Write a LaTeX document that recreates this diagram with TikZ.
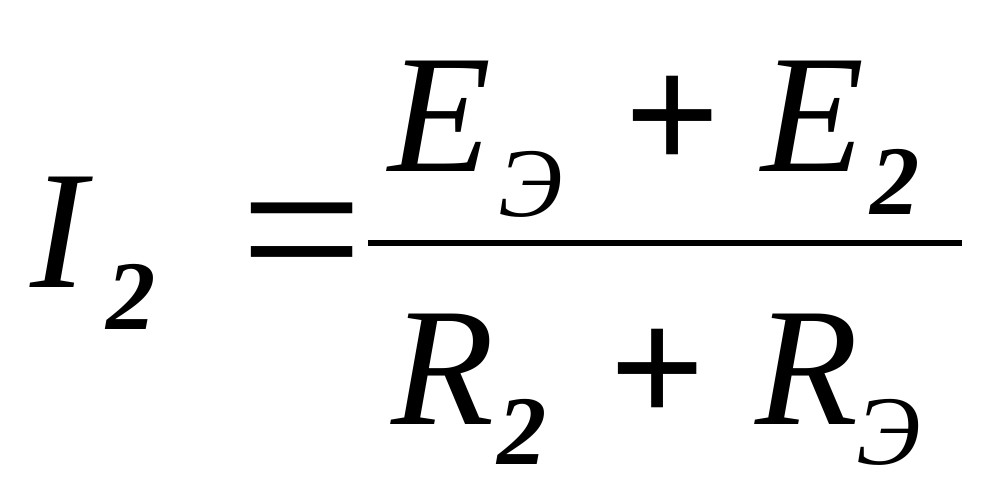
\documentclass[tikz,border=0pt]{standalone}
\usepackage{fontspec}
\setmainfont{Liberation Serif}
\usepackage{tikz}
\tikzstyle{bigsym} = [inner sep=0pt, anchor=base west, font=\fontsize{48}{50}\selectfont\itshape]
\tikzstyle{smallsym} = [inner sep=0pt, anchor=base west, font=\fontsize{28}{30}\selectfont\itshape]
\tikzstyle{smallbold} = [inner sep=0pt, anchor=base west, font=\fontsize{28}{30}\selectfont\bfseries\itshape]
\tikzstyle{opsym} = [inner sep=0pt, anchor=base west, font=\fontsize{48}{50}\selectfont\bfseries]

\begin{document}
\begin{tikzpicture}
\useasboundingbox (0,0) rectangle (10,5);
% left side
\node [bigsym] (cur) at (0.30,2.12) {I};
\node [smallbold] (cursub) at (1.06,1.70) {2};
\node [opsym, font=\fontsize{62}{64}\selectfont] (eq) at (2.40,1.97) {=};
% numerator
\node [bigsym] (ee) at (3.88,3.28) {E};
\node [smallsym] (eesub) at (4.98,2.83) {Э};
\node [opsym] (plustop) at (6.24,3.28) {+};
\node [bigsym] (etwo) at (7.61,3.28) {E};
\node [smallbold] (etwosub) at (8.70,2.85) {2};
% fraction bar
\coordinate (barl) at (3.68,2.57);
\coordinate (barr) at (9.62,2.57);
\draw [line width=1.8pt] (barl) -- (barr);
% denominator
\node [bigsym] (rtwo) at (3.91,0.75) {R};
\node [smallbold] (rtwosub) at (4.97,0.35) {2};
\node [opsym] (plusbot) at (6.09,0.75) {+};
\node [bigsym] (re) at (7.55,0.75) {R};
\node [smallsym] (resub) at (8.56,0.35) {Э};
\end{tikzpicture}
\end{document}
